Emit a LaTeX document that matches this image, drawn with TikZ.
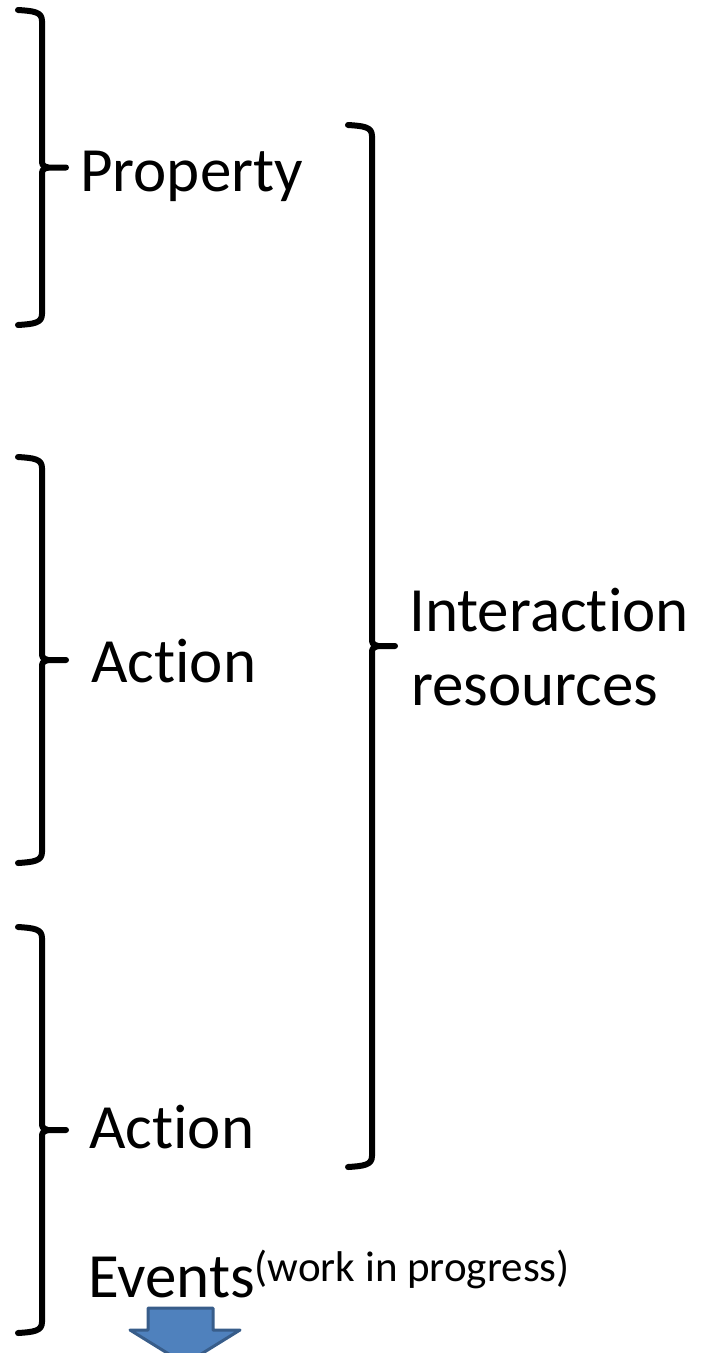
\documentclass[tikz,border=0pt]{standalone}
\usepackage{fontspec}
\setmainfont[Ligatures=NoCommon]{Carlito}
\definecolor{arrowfill}{HTML}{4F81BD}
\definecolor{arrowline}{HTML}{385D8A}
\tikzset{
  bracestroke/.style={line width=6pt, line cap=round, line join=round, black},
  lbl/.style={inner sep=0pt, font=\fontsize{63}{75}\selectfont, anchor=base west},
  blockarrow/.style={fill=arrowfill, draw=arrowline, line width=3pt, line join=round},
}
% a right curly brace: left end x, spine x, tip end x, top, bottom
\newcommand{\groupbrace}[5]{%
  \pgfmathsetmacro{\bmid}{(#4+#5)/2}%
  \draw[bracestroke] (#1,#4) .. controls (#2-8,#4+1) and (#2,#4+2) .. (#2,#4+11)
    -- (#2,\bmid-9) .. controls (#2,\bmid-2) .. (#2+6,\bmid) -- (#3,\bmid);
  \draw[bracestroke] (#2+6,\bmid) .. controls (#2,\bmid+2) .. (#2,\bmid+9)
    -- (#2,#5-11) .. controls (#2,#5-2) and (#2-8,#5-1) .. (#1,#5);
}
\begin{document}
\begin{tikzpicture}[x=1pt,y=-1pt]
  \useasboundingbox (0,0) rectangle (708,1353);
  \clip (0,0) rectangle (708,1353);

  % braces grouping the resource kinds
  \groupbrace{18}{42}{66}{10}{325}
  \groupbrace{18}{42}{66}{457}{863}
  \groupbrace{18}{42}{66}{927}{1333}
  \groupbrace{348}{372}{395}{125}{1167}

  % labels
  \node[lbl] (prop) at (80,191) {Property};
  \node[lbl] (act1) at (91,682) {Action};
  \node[lbl] (act2) at (89,1148) {Action};
  \node[lbl] (ev) at (88,1297) {Events\raisebox{16pt}{\fontsize{43}{50}\selectfont(work in progress)}};
  \node[lbl] (inter) at (409,631) {Interaction};
  \node[lbl] (res) at (411,705) {resources};

  % block arrow below the events label
  \draw[blockarrow] (148,1308) -- (213,1308) -- (213,1330) -- (240,1330)
    -- (185,1364) -- (130,1330) -- (148,1330) -- cycle;
\end{tikzpicture}
\end{document}
